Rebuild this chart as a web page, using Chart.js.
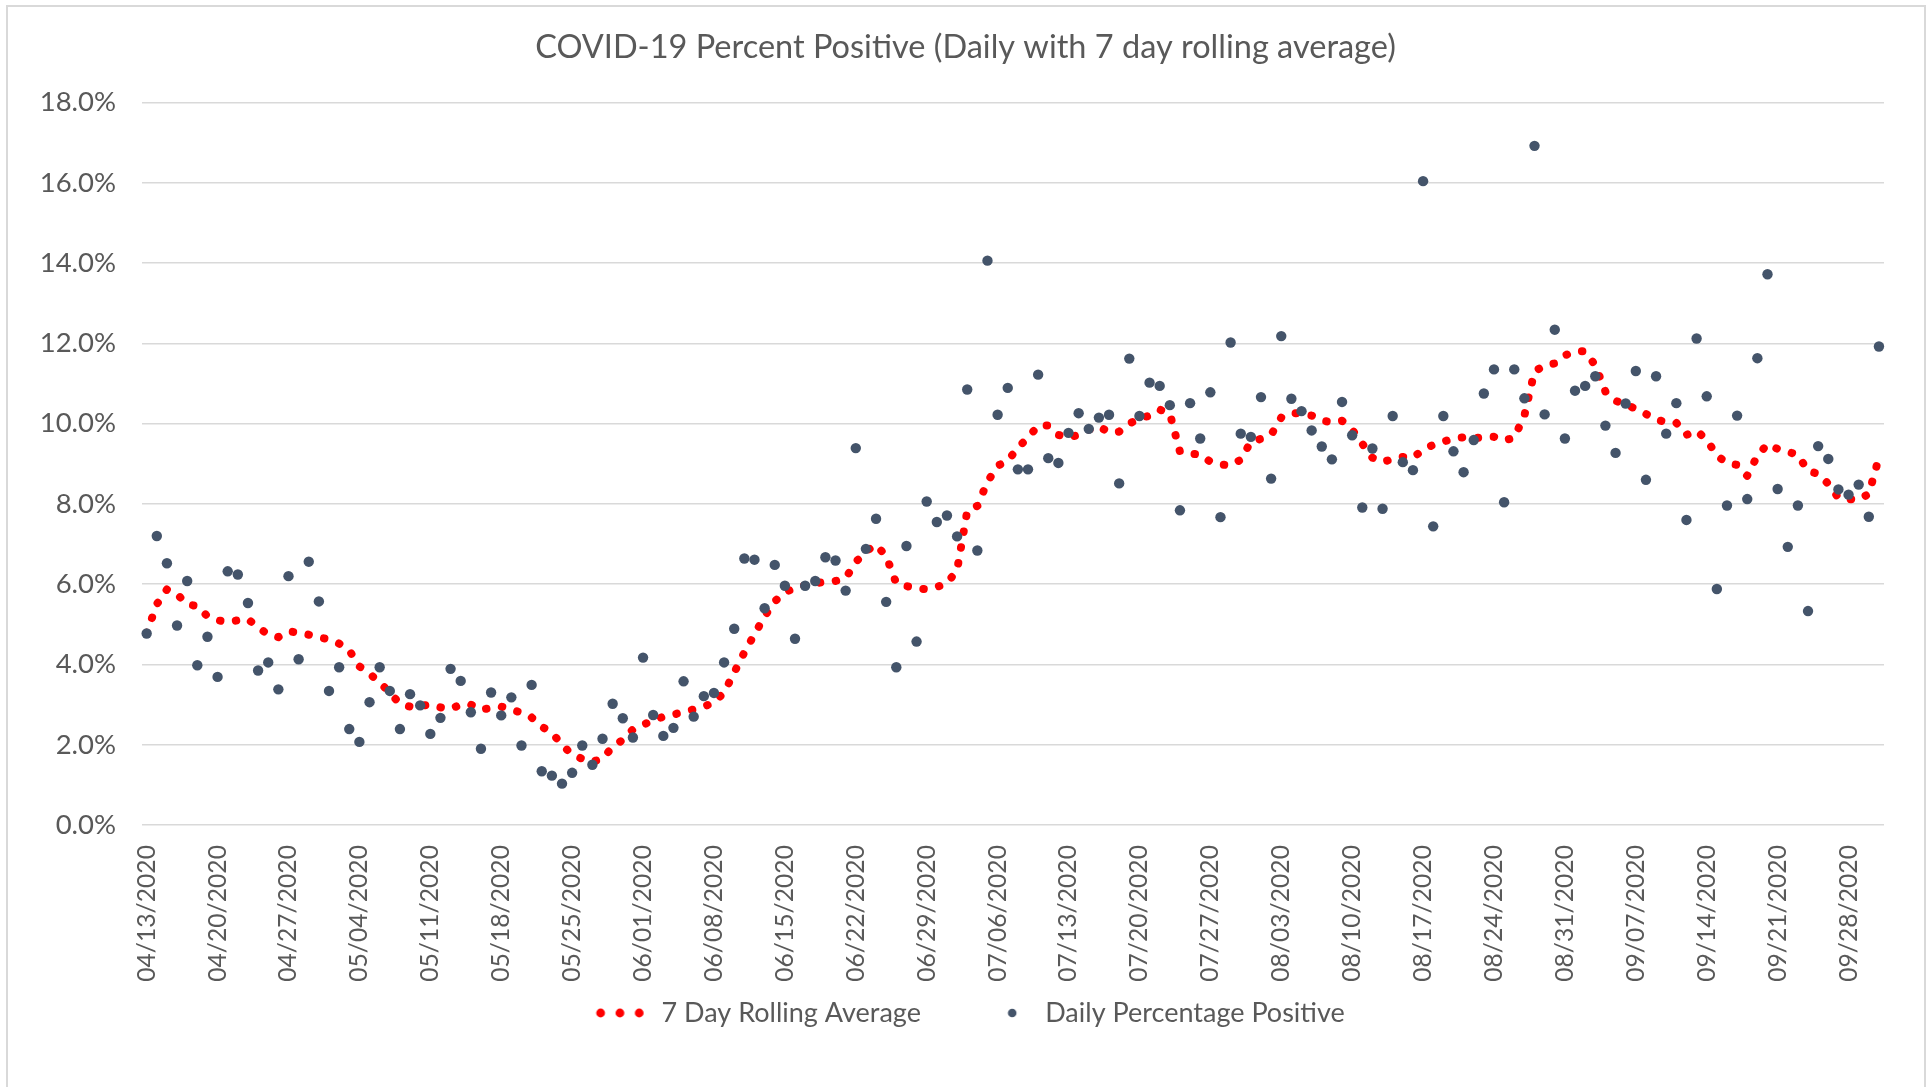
<!DOCTYPE html>
<html>
<head>
<meta charset="utf-8">
<title>COVID-19 Percent Positive</title>
<script src="https://cdn.jsdelivr.net/npm/chart.js@4.4.1/dist/chart.umd.min.js"></script>
<style>
  html, body { margin: 0; padding: 0; background: #fff; }
  #wrap { position: relative; width: 1931px; height: 1087px; }
</style>
</head>
<body>
<div id="wrap"><canvas id="grafico"></canvas></div>
<script>
// dias: 04/13/2020 ate 10/01/2020 (172 dias)
const startDate = [2020, 3, 13];
const numDays = 172;

// percentual positivo diario (%)
const dailyPositive = [
  4.77, 7.20, 6.52, 4.97, 6.08, 3.98, 4.69, 3.69, 6.32, 6.24,
  5.53, 3.85, 4.05, 3.38, 6.20, 4.13, 6.56, 5.57, 3.34, 3.93,
  2.39, 2.07, 3.06, 3.93, 3.34, 2.39, 3.26, 2.98, 2.27, 2.67,
  3.89, 3.59, 2.81, 1.90, 3.30, 2.73, 3.18, 1.98, 3.49, 1.34,
  1.23, 1.03, 1.30, 1.98, 1.50, 2.15, 3.02, 2.66, 2.18, 4.17,
  2.74, 2.22, 2.42, 3.58, 2.70, 3.21, 3.29, 4.05, 4.89, 6.64,
  6.61, 5.40, 6.48, 5.96, 4.64, 5.96, 6.08, 6.67, 6.59, 5.84,
  9.39, 6.88, 7.63, 5.56, 3.93, 6.95, 4.57, 8.06, 7.55, 7.71,
  7.19, 10.85, 6.84, 14.06, 10.22, 10.89, 8.86, 8.86, 11.22, 9.14,
  9.02, 9.77, 10.26, 9.87, 10.15, 10.22, 8.51, 11.62, 10.19, 11.02,
  10.94, 10.46, 7.84, 10.51, 9.63, 10.78, 7.67, 12.02, 9.75, 9.67,
  10.66, 8.63, 12.18, 10.62, 10.31, 9.83, 9.43, 9.11, 10.54, 9.71,
  7.91, 9.38, 7.88, 10.19, 9.04, 8.84, 16.04, 7.44, 10.19, 9.31,
  8.79, 9.59, 10.75, 11.35, 8.04, 11.35, 10.63, 16.92, 10.23, 12.34,
  9.63, 10.82, 10.94, 11.18, 9.95, 9.27, 10.50, 11.31, 8.60, 11.18,
  9.75, 10.51, 7.60, 12.12, 10.68, 5.88, 7.96, 10.20, 8.12, 11.63,
  13.72, 8.37, 6.93, 7.96, 5.33, 9.44, 9.12, 8.36, 8.23, 8.48,
  7.68, 11.92
];

// media movel de 7 dias (%)
const rollingAvg = [
  4.78, 5.50, 5.87, 5.75, 5.50, 5.45, 5.20, 5.10, 5.06, 5.10,
  5.13, 4.92, 4.75, 4.68, 4.82, 4.80, 4.74, 4.67, 4.63, 4.52,
  4.35, 3.95, 3.77, 3.55, 3.30, 3.02, 2.95, 2.97, 3.00, 2.93,
  2.89, 3.00, 3.00, 2.87, 2.92, 2.95, 2.87, 2.80, 2.68, 2.45,
  2.30, 2.00, 1.75, 1.65, 1.58, 1.65, 1.95, 2.12, 2.38, 2.50,
  2.60, 2.70, 2.75, 2.82, 2.88, 2.95, 3.05, 3.30, 3.80, 4.30,
  4.75, 5.20, 5.57, 5.80, 5.90, 5.97, 6.02, 6.06, 6.08, 6.15,
  6.55, 6.82, 6.98, 6.70, 6.02, 5.95, 5.90, 5.87, 5.93, 6.02,
  6.35, 7.82, 7.95, 8.55, 8.95, 9.07, 9.40, 9.65, 9.95, 9.95,
  9.72, 9.65, 9.72, 9.85, 9.93, 9.78, 9.80, 10.00, 10.12, 10.20,
  10.35, 10.25, 9.30, 9.25, 9.23, 9.05, 8.98, 8.96, 9.10, 9.55,
  9.62, 9.72, 10.15, 10.27, 10.24, 10.20, 10.08, 10.03, 10.07, 9.85,
  9.50, 9.15, 9.04, 9.12, 9.17, 9.15, 9.35, 9.47, 9.55, 9.63,
  9.66, 9.64, 9.66, 9.67, 9.58, 9.65, 10.20, 11.30, 11.45, 11.50,
  11.70, 11.80, 11.80, 11.45, 10.80, 10.57, 10.47, 10.37, 10.24, 10.10,
  10.04, 10.02, 9.72, 9.82, 9.60, 9.20, 9.02, 8.97, 8.70, 9.20,
  9.49, 9.37, 9.30, 9.22, 8.82, 8.75, 8.50, 8.15, 8.12, 8.10,
  8.25, 9.15
];

// rotulos do eixo y
const yTicks = [0, 2, 4, 6, 8, 10, 12, 14, 16, 18];

const dias = [];
for (let i = 0; i < numDays; i++) {
  const d = new Date(Date.UTC(startDate[0], startDate[1], startDate[2] + i));
  const mm = String(d.getUTCMonth() + 1).padStart(2, '0');
  const dd = String(d.getUTCDate()).padStart(2, '0');
  dias.push(mm + '/' + dd + '/' + d.getUTCFullYear());
}

const cinza = '#595959';
const linhaGrade = '#d9d9d9';
const azulEscuro = '#44546A';
const vermelho = '#FF0000';

Chart.defaults.font.family = 'Lato';
Chart.defaults.color = cinza;

// marcadores da legenda (desenhados deslocados dentro da caixa de 100.8px)
const marcaMedia = document.createElement('canvas');
marcaMedia.width = 96; marcaMedia.height = 10;
(function () {
  const c = marcaMedia.getContext('2d');
  const cx = 48 + 22.3;
  c.fillStyle = vermelho;
  [-19.3, 0, 19.3].forEach(dx => { c.beginPath(); c.arc(cx + dx, 5, 4.4, 0, Math.PI * 2); c.fill(); });
})();
const marcaDiaria = document.createElement('canvas');
marcaDiaria.width = 74; marcaDiaria.height = 10;
(function () {
  const c = marcaDiaria.getContext('2d');
  c.fillStyle = azulEscuro;
  c.beginPath(); c.arc(37 + 30.9, 5, 4.3, 0, Math.PI * 2); c.fill();
})();

// moldura cinza + titulo centrado na largura toda
const moldura = {
  id: 'moldura',
  afterLayout(chart) {
    if (chart.titleBlock) {
      chart.titleBlock.left = 0;
      chart.titleBlock.right = chart.width;
    }
  },
  beforeDraw(chart) {
    const ctx = chart.ctx;
    ctx.save();
    ctx.strokeStyle = linhaGrade;
    ctx.lineWidth = 2;
    ctx.strokeRect(7, 6, 1918, 1120);
    ctx.restore();
  }
};

const ctx = document.getElementById('grafico').getContext('2d');
const grafico = new Chart(ctx, {
  type: 'line',
  data: {
    labels: dias,
    datasets: [
      {
        label: 'Daily Percentage Positive',
        data: dailyPositive,
        showLine: false,
        pointRadius: 5.2,
        pointHoverRadius: 5.2,
        pointBorderWidth: 0,
        pointBackgroundColor: azulEscuro,
        borderColor: azulEscuro,
        order: 0
      },
      {
        label: '7 Day Rolling Average',
        data: rollingAvg,
        borderColor: vermelho,
        borderWidth: 8,
        borderDash: [0.5, 15.5],
        borderCapStyle: 'round',
        borderJoinStyle: 'round',
        pointRadius: 0,
        tension: 0,
        fill: false,
        order: 1
      }
    ]
  },
  options: {
    responsive: true,
    maintainAspectRatio: false,
    animation: false,
    layout: { padding: { top: 6, left: 8, right: 47, bottom: 50.5 } },
    plugins: {
      title: {
        display: true,
        text: 'COVID-19 Percent Positive (Daily with 7 day rolling average)',
        color: cinza,
        font: { size: 32.5, weight: 'normal' },
        padding: { top: 22, bottom: 35.5 }
      },
      legend: {
        position: 'bottom',
        labels: {
          usePointStyle: true,
          pointStyleWidth: 100.8,
          padding: 10,
          color: cinza,
          font: { size: 27 },
          generateLabels() {
            return [
              { text: '7 Day Rolling Average', pointStyle: marcaMedia, fillStyle: vermelho, strokeStyle: vermelho, lineWidth: 0, fontColor: cinza, hidden: false, datasetIndex: 1 },
              { text: 'Daily Percentage Positive', pointStyle: marcaDiaria, fillStyle: azulEscuro, strokeStyle: azulEscuro, lineWidth: 0, fontColor: cinza, hidden: false, datasetIndex: 0 }
            ];
          }
        }
      },
      tooltip: { enabled: false }
    },
    scales: {
      x: {
        offset: true,
        grid: { display: false },
        border: { display: false },
        afterFit(s) { s.height = 164.5; },
        ticks: {
          autoSkip: false,
          minRotation: 90,
          maxRotation: 90,
          padding: 12,
          color: cinza,
          font: { size: 24.7 },
          callback(val, i) { return i % 7 === 0 ? this.getLabelForValue(val) : ''; }
        }
      },
      y: {
        min: yTicks[0],
        max: yTicks[yTicks.length - 1],
        afterFit(s) { s.width = 133.6; },
        afterBuildTicks(s) { s.ticks = yTicks.map(v => ({ value: v })); },
        grid: { color: linhaGrade, lineWidth: 1.5, drawTicks: false },
        border: { display: false },
        ticks: {
          padding: 25.5,
          color: cinza,
          font: { size: 27.5 },
          callback(v) { return v.toFixed(1) + '%'; }
        }
      }
    }
  },
  plugins: [moldura]
});
</script>
</body>
</html>
